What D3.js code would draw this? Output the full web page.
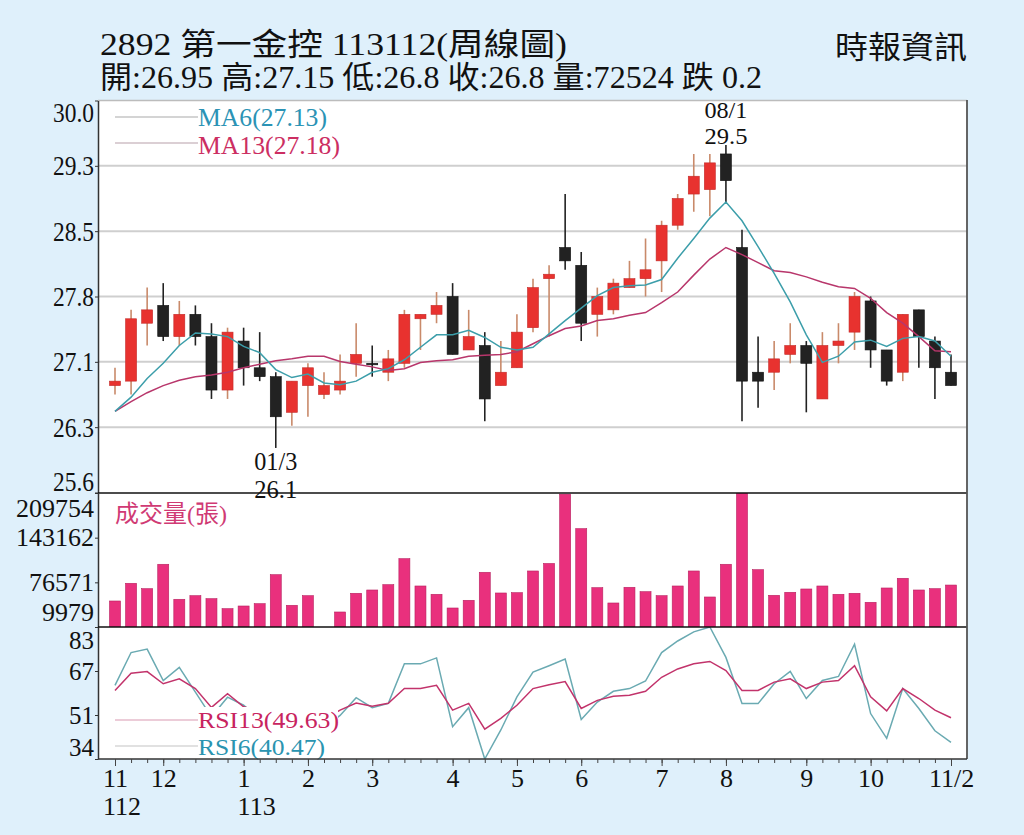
<!DOCTYPE html>
<html><head><meta charset="utf-8">
<script src="https://cdn.jsdelivr.net/npm/d3@7"></script>
<style>
html,body{margin:0;padding:0;background:#dff0fb;}
svg{display:block;}
text{font-family:"Liberation Serif","Noto Sans CJK TC",serif;}
</style></head><body>
<svg id="c" width="1024" height="835"></svg>
<script>
// ---------------- data ----------------
const weeks = d3.range(53); // weekly bars, 112/11 .. 113/11/2
const open  = [26.8,26.85,27.5,27.7,27.35,27.6,27.35,26.75,27.3,27.0,26.9,26.5,26.8,26.7,26.75,27.05,27.05,26.95,27.05,27.55,27.6,27.8,27.2,27.25,26.8,27.0,27.45,28.0,28.35,28.15,27.6,27.65,27.9,28.0,28.2,28.6,28.95,29.0,29.4,28.35,26.95,26.95,27.15,27.25,26.65,27.25,27.4,27.75,27.2,26.95,27.65,27.3,26.95];
const high  = [27.0,27.65,27.9,27.95,27.75,27.7,27.5,27.45,27.45,27.4,26.95,26.85,27.05,26.95,27.15,27.5,27.25,27.2,27.65,27.6,27.85,27.95,27.65,27.4,27.3,27.6,28.0,28.15,28.95,28.3,27.9,28.0,28.2,28.45,28.65,28.95,29.4,29.4,29.5,28.55,27.35,27.3,27.5,27.3,27.4,27.5,27.85,27.8,27.2,27.6,27.65,27.35,27.15];
const low   = [26.7,26.7,27.25,27.3,27.25,27.25,26.65,26.65,26.8,26.85,26.1,26.35,26.45,26.65,26.7,26.9,26.9,26.85,27.0,27.2,27.5,27.15,27.2,26.4,26.8,27.0,27.4,27.35,28.1,27.3,27.35,27.6,27.9,27.8,27.85,28.55,28.75,28.7,28.85,26.4,26.55,26.75,27.05,26.5,26.65,27.05,27.2,27.0,26.8,26.85,27.0,26.65,26.8];
const close = [26.85,27.55,27.65,27.35,27.6,27.35,26.75,27.4,27.0,26.9,26.45,26.85,27.0,26.8,26.85,27.15,27.05,27.1,27.6,27.6,27.7,27.15,27.35,26.65,26.95,27.4,27.9,28.05,28.2,27.5,27.8,27.95,28.0,28.1,28.6,28.9,29.15,29.3,29.1,26.85,26.85,27.1,27.25,27.05,27.25,27.3,27.8,27.2,26.85,27.6,27.35,27.0,26.8];
const ma6   = [26.51,26.67,26.88,27.05,27.25,27.39,27.38,27.35,27.24,27.17,26.98,26.89,26.93,26.83,26.81,26.85,26.95,26.99,27.09,27.23,27.37,27.37,27.42,27.34,27.23,27.20,27.23,27.38,27.53,27.67,27.81,27.90,27.92,27.93,27.99,28.23,28.45,28.68,28.86,28.65,28.36,28.06,27.74,27.37,27.06,27.13,27.29,27.31,27.24,27.33,27.35,27.30,27.13];
const ma13  = [26.51,26.62,26.72,26.80,26.86,26.90,26.92,26.95,27.00,27.04,27.08,27.10,27.13,27.13,27.07,27.04,27.01,26.97,26.99,27.06,27.08,27.09,27.13,27.14,27.15,27.18,27.27,27.36,27.44,27.47,27.53,27.55,27.59,27.62,27.73,27.85,28.04,28.22,28.35,28.27,28.18,28.09,28.07,28.02,27.96,27.91,27.89,27.78,27.62,27.50,27.35,27.19,27.18];
const volume= [48750,75140,67090,103480,51290,56650,52180,37270,41290,44720,87970,42340,56650,9979,32350,60230,65150,73060,111830,71120,58740,38310,49790,91550,60680,61130,93490,104670,208000,156570,68580,45770,69180,62620,56650,71120,93490,54720,103480,209754,95430,57250,61720,66650,71120,58740,60230,46810,68140,82600,65150,67090,72524];
const rsi6  = [61.7,73.9,75.2,63.5,68.4,59.2,50.0,57.3,54.3,49.0,38.0,47.0,50.0,46.0,50.5,57.1,53.4,55.0,69.7,69.7,71.9,46.3,53.4,34.3,45.1,57.4,66.6,69.0,71.5,49.0,55.5,59.5,60.5,63.3,73.9,78.2,81.6,83.4,72.1,54.9,54.9,62.3,66.9,56.8,63.5,65.0,77.0,51.2,42.0,60.5,53.1,44.8,40.47];
const rsi13 = [59.8,66.2,66.8,62.3,64.1,60.5,53.5,58.6,53.7,52.0,46.0,49.0,50.5,49.0,52.5,55.1,53.9,55.0,60.5,60.5,61.7,52.5,55.0,45.4,49.4,54.3,60.5,61.9,63.1,53.1,56.1,57.6,58.0,59.5,64.7,67.8,69.7,70.6,67.2,59.8,59.8,62.9,64.1,60.5,62.9,63.5,69.0,57.4,52.2,60.5,56.8,52.5,49.63];
const priceTickLabels = ["30.0","29.3","28.5","27.8","27.1","26.3","25.6"];
const volTickValues = [209754,143162,76571,9979];
const rsiTickLabels = ["83","67","51","34"];
const monthIdx   = [0,3,8,12,16,21,25,29,34,38,43,47,52];
const monthLabel = ["11","12","1","2","3","4","5","6","7","8","9","10","11/2"];
const yearIdx    = [0,8];
const yearLabel  = ["112","113"];
const title = "2892  第一金控 113112(周線圖)";
const source = "時報資訊";
const maLabel = ["MA6(27.13)","MA13(27.18)"];
const rsiLabel = ["RSI13(49.63)","RSI6(40.47)"];
const volTitle = "成交量(張)";
const hiNote = ["08/1","29.5"], loNote = ["01/3","26.1"];

// ---------------- layout ----------------
const L=98, R=967, PT=100.5, PB=492.5, VT=493, VB=627, RT=627, RB=759;
const svg = d3.select("#c");
const x = d3.scalePoint().domain(weeks).range([115,951]);
const yP = d3.scaleLinear().domain([25.6,30]).range([PB,PT]);
const yV = d3.scaleLinear().domain([9979,209754]).range([VB,VT]);
const yR = d3.scaleLinear().domain([34.3,83.4]).range([RB,RT]);
const RED="#e8322f", BLK="#222", C6="#3c9eaa", C13="#b8366b";

// header
svg.append("text").attr("x",100).attr("y",55).attr("font-size",31).attr("textLength",467).attr("lengthAdjust","spacingAndGlyphs").attr("fill","#111").text(title);
const last=52;
const line2 = `開:${open[last]} 高:${high[last]} 低:${low[last]} 收:${close[last]} 量:${volume[last]} 跌 ${(close[last-1]-close[last]).toFixed(1)}`;
svg.append("text").attr("x",100).attr("y",88).attr("font-size",31).attr("textLength",662).attr("lengthAdjust","spacingAndGlyphs").attr("fill","#111").text(line2);
svg.append("text").attr("x",835).attr("y",58).attr("font-size",31).attr("textLength",132).attr("lengthAdjust","spacingAndGlyphs").attr("fill","#111").text(source);

// panel
svg.append("rect").attr("x",L).attr("y",100).attr("width",R-L).attr("height",RB-100).attr("fill","#fff");
const defs=svg.append("defs");
[["cp",PT-1,PB+0.5],["cv",VT,VB],["cr",RT,RB]].forEach(([id,a,b])=>{
  defs.append("clipPath").attr("id",id).append("rect").attr("x",L).attr("y",a).attr("width",R-L).attr("height",b-a);
});

// price grid
const pTickVals = priceTickLabels.map((d,i)=>30-i*4.4/6);
svg.append("g").selectAll("line").data(pTickVals.slice(1,-1)).join("line")
  .attr("x1",L).attr("x2",R).attr("y1",d=>yP(d)).attr("y2",d=>yP(d))
  .attr("stroke","#cfcfcf").attr("stroke-width",2);
svg.append("line").attr("x1",L).attr("x2",R).attr("y1",100.5).attr("y2",100.5).attr("stroke","#bcbcbc").attr("stroke-width",1.5);

// MA legend
const lg=svg.append("g");
[[117,126,maLabel[0],"#2b93b5","#a9a9a9",129],[143,154,maLabel[1],"#cc2e62","#b8a0aa",142]].forEach(([yy,ty,t,c,lc,w])=>{
  lg.append("line").attr("x1",115).attr("x2",198).attr("y1",yy).attr("y2",yy).attr("stroke",lc).attr("stroke-width",1.2);
  lg.append("text").attr("x",198).attr("y",ty).attr("font-size",25).attr("fill",c).attr("textLength",w).attr("lengthAdjust","spacingAndGlyphs").text(t);
});

// candles
const gc=svg.append("g").attr("clip-path","url(#cp)");
const up = i=>close[i]>open[i];
gc.selectAll("line.w").data(weeks).join("line").attr("class","w")
  .attr("x1",i=>x(i)).attr("x2",i=>x(i)).attr("y1",i=>yP(high[i])).attr("y2",i=>yP(low[i]))
  .attr("stroke",i=>up(i)?"#c98a6a":"#222").attr("stroke-width",1.6);
gc.selectAll("rect.b").data(weeks).join("rect").attr("class","b")
  .attr("x",i=>x(i)-5.5).attr("width",11)
  .attr("y",i=>yP(Math.max(open[i],close[i])))
  .attr("height",i=>Math.max(1.5,Math.abs(yP(open[i])-yP(close[i]))))
  .attr("fill",i=>up(i)?RED:BLK).attr("stroke",i=>up(i)?"#c42a28":"#111").attr("stroke-width",0.6);
// MA lines
const lineP = arr=>d3.line().x((d,i)=>x(i)).y(d=>yP(d))(arr);
gc.append("path").attr("d",lineP(ma13)).attr("fill","none").attr("stroke",C13).attr("stroke-width",1.5);
gc.append("path").attr("d",lineP(ma6)).attr("fill","none").attr("stroke",C6).attr("stroke-width",1.5);

// notes
svg.append("rect").attr("x",257).attr("y",478).attr("width",37).attr("height",22).attr("fill","#fff");
[[x(10),470,loNote[0],25],[x(10),498,loNote[1],25],[x(38),117.5,hiNote[0],24],[x(38),143.5,hiNote[1],24]].forEach(([xx,yy,t,fs])=>{
  svg.append("text").attr("x",xx).attr("y",yy).attr("text-anchor","middle").attr("font-size",fs).attr("fill","#111")
    .attr("textLength",43).attr("lengthAdjust","spacingAndGlyphs").text(t);
});

// price axis
const ax1=svg.append("g").attr("transform",`translate(${L},0)`)
  .call(d3.axisLeft(yP).tickValues(pTickVals).tickFormat((d,i)=>priceTickLabels[i]).tickSize(3).tickSizeOuter(0).tickPadding(1));
ax1.selectAll("text").attr("font-size",28).attr("fill","#111").attr("textLength",41).attr("lengthAdjust","spacingAndGlyphs")
  .attr("y",(d,i)=>i===0?12.5:(i===6?-11:0));

// volume
const gv=svg.append("g").attr("clip-path","url(#cv)");
gv.selectAll("rect").data(weeks).join("rect")
  .attr("x",i=>x(i)-5.5).attr("width",11).attr("y",i=>yV(volume[i])).attr("height",i=>VB-yV(volume[i]))
  .attr("fill","#e9307d").attr("stroke","#b8215f").attr("stroke-width",0.6);
svg.append("text").attr("x",115).attr("y",522).attr("font-size",24).attr("fill","#d03a74").text(volTitle);
const ax2=svg.append("g").attr("transform",`translate(${L},0)`)
  .call(d3.axisLeft(yV).tickValues(volTickValues).tickFormat(d=>d).tickSize(3).tickSizeOuter(0).tickPadding(1));
ax2.selectAll("text").attr("font-size",26).attr("fill","#111")
  .attr("y",(d,i)=>i===0?15:(i===3?-15:0));

// RSI
const gr=svg.append("g").attr("clip-path","url(#cr)");
const lineR = arr=>d3.line().x((d,i)=>x(i)).y(d=>yR(d))(arr);
gr.append("path").attr("d",lineR(rsi6)).attr("fill","none").attr("stroke","#6aaab2").attr("stroke-width",1.5);
gr.append("path").attr("d",lineR(rsi13)).attr("fill","none").attr("stroke","#c2336b").attr("stroke-width",1.5);
svg.append("rect").attr("x",100).attr("y",707).attr("width",238).attr("height",51).attr("fill","#fff");
[[720,728,rsiLabel[0],"#c8245f","#d99ab2",141],[746,755,rsiLabel[1],"#2a94b0","#c4c4c4",127]].forEach(([yy,ty,t,c,lc,w])=>{
  svg.append("line").attr("x1",115).attr("x2",198).attr("y1",yy).attr("y2",yy).attr("stroke",lc).attr("stroke-width",1.2);
  svg.append("text").attr("x",198).attr("y",ty).attr("font-size",24).attr("fill",c).attr("textLength",w).attr("lengthAdjust","spacingAndGlyphs").text(t);
});
const rTickVals = rsiTickLabels.map((d,i)=>83.4-i*(83.4-34.3)/3);
const ax3=svg.append("g").attr("transform",`translate(${L},0)`)
  .call(d3.axisLeft(yR).tickValues(rTickVals).tickFormat((d,i)=>rsiTickLabels[i]).tickSize(3).tickSizeOuter(0).tickPadding(1));
ax3.selectAll("text").attr("font-size",25).attr("fill","#111")
  .attr("y",(d,i)=>i===0?13:(i===3?-12:0));

// separators & borders
[[VT],[VB]].forEach(([yy])=>svg.append("line").attr("x1",L).attr("x2",R).attr("y1",yy).attr("y2",yy).attr("stroke","#111").attr("stroke-width",1.5));
svg.append("line").attr("x1",R).attr("x2",R).attr("y1",100).attr("y2",RB).attr("stroke","#555").attr("stroke-width",1.8);
[ax1,ax2,ax3].forEach(a=>{a.select(".domain").attr("stroke","#333").attr("stroke-width",1.5);a.selectAll(".tick line").attr("stroke","#333");});

// x axis
const axw=svg.append("g").attr("transform",`translate(0,${RB})`)
  .call(d3.axisBottom(x).tickValues(weeks).tickFormat("").tickSize(4).tickSizeOuter(0));
axw.select(".domain").attr("stroke","#333").attr("stroke-width",1.5).attr("d",`M${L},0H${R}`);
axw.selectAll(".tick line").attr("stroke","#444");
const axm=svg.append("g").attr("transform",`translate(0,${RB})`)
  .call(d3.axisBottom(x).tickValues(monthIdx).tickFormat((d,i)=>monthLabel[i]).tickSize(7).tickSizeOuter(0).tickPadding(3));
axm.select(".domain").remove();
axm.selectAll(".tick line").attr("stroke","#444");
axm.selectAll("text").attr("font-size",26).attr("fill","#111");
// year labels, left-aligned with month labels
axm.selectAll(".tick").each(function(d){
  const k=yearIdx.indexOf(d);
  if(k<0) return;
  const t=d3.select(this).select("text");
  const w=t.node().getComputedTextLength();
  d3.select(this).append("text").attr("x",-w/2).attr("y",56).attr("text-anchor","start")
    .attr("font-size",26).attr("fill","#111").text(yearLabel[k]);
});
</script>
</body></html>
